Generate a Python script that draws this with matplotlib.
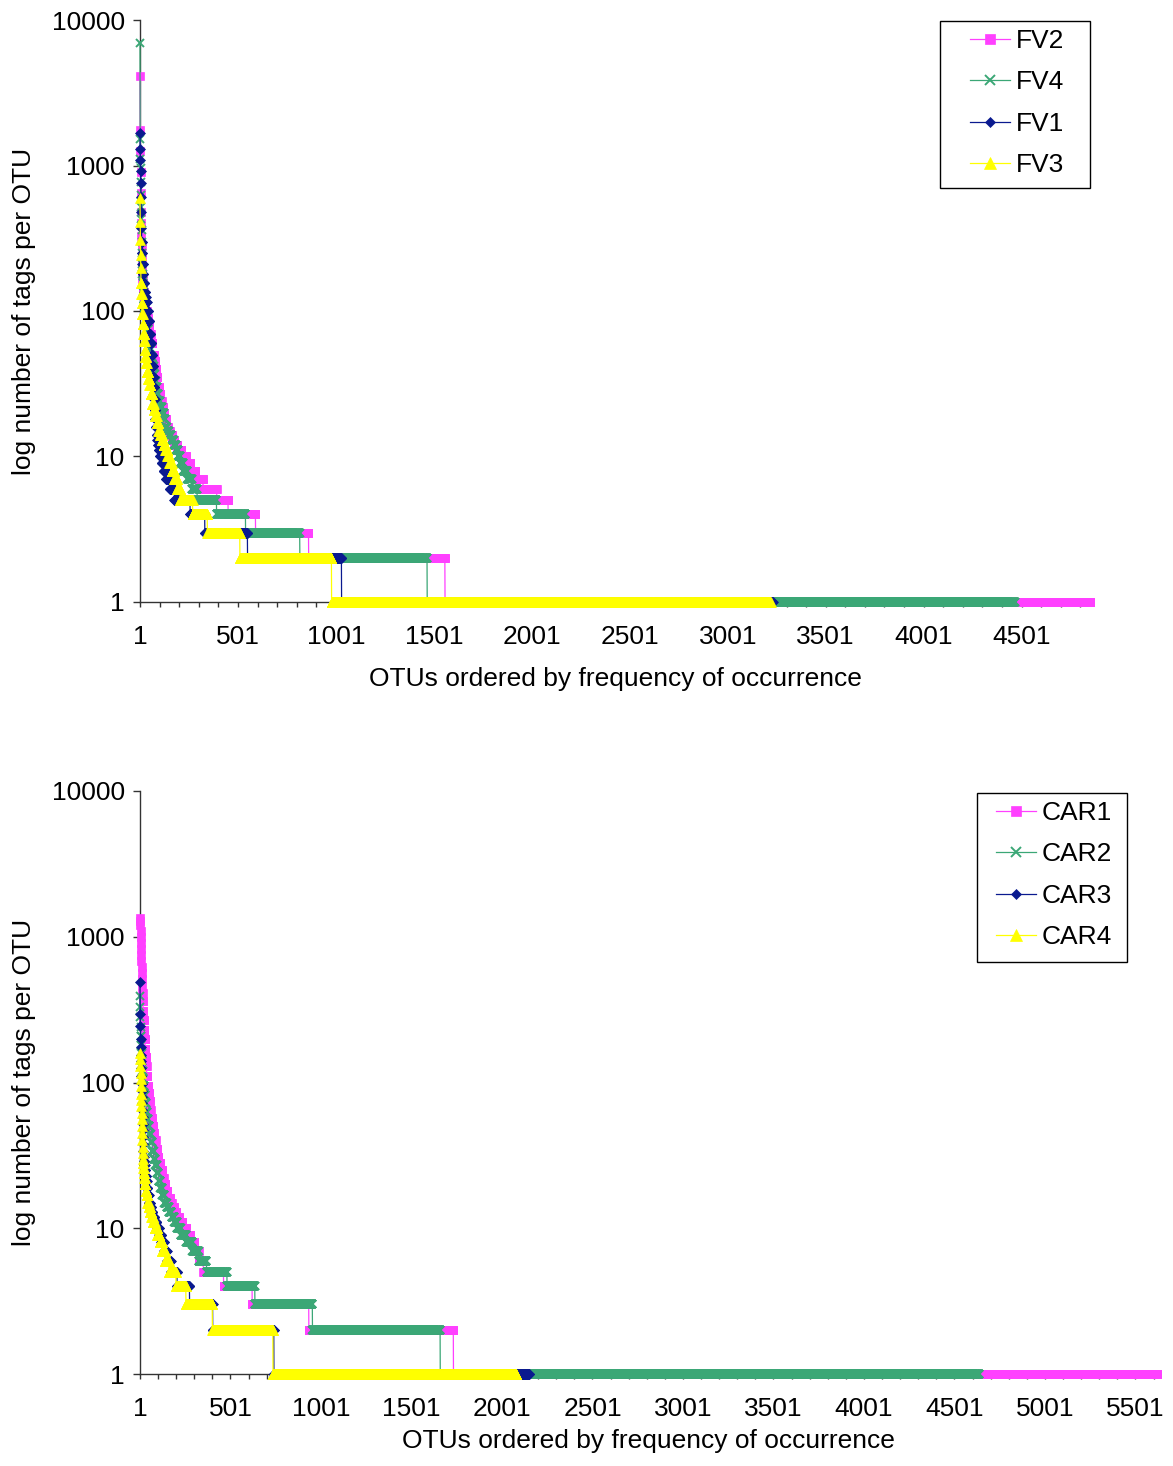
import numpy as np
import matplotlib
matplotlib.use('Agg')
from matplotlib import pyplot as plt
from matplotlib.patches import Rectangle

plt.rcParams['font.family'] = ['Liberation Sans', 'DejaVu Sans']

# rank-abundance data: abundance levels (tags per OTU) and the last OTU rank at each level
fv2_levels = [4150, 1750, 1250, 900, 650, 480, 400, 330, 280, 240, 210, 185, 165, 150, 135, 120, 110, 100, 90, 80,
              70, 60, 50, 45, 40, 35, 30, 27, 24, 22, 20, 18, 16, 15, 14, 13, 12, 11, 10, 9, 8, 7, 6, 5, 4, 3, 2, 1]
fv2_ends = [1, 2, 3, 4, 5, 6, 7, 8, 9, 10, 11, 12, 14, 16, 19, 23, 28, 35, 41, 48,
            55, 63, 72, 78, 84, 90, 97, 104, 111, 117, 124, 133, 143, 152, 163, 176, 190, 210, 235, 258,
            283, 322, 392, 450, 590, 861, 1557, 4850]

fv4_levels = [6950, 1510, 1100, 960, 770, 630, 520, 430, 360, 300, 250, 210, 180, 155, 135, 120, 105, 95, 85, 75,
              65, 55, 48, 42, 37, 33, 30, 27, 24, 22, 20, 18, 16, 15, 14, 13, 12, 11, 10, 9, 8, 7, 6, 5, 4, 3, 2, 1]
fv4_ends = [1, 2, 3, 4, 5, 6, 7, 8, 9, 10, 11, 12, 14, 16, 19, 23, 27, 32, 38, 44,
            51, 58, 64, 70, 76, 82, 88, 95, 102, 112, 122, 129, 137, 147, 160, 172, 185, 195, 205, 220,
            242, 265, 292, 391, 539, 816, 1466, 4466]

fv1_levels = [1670, 1290, 1090, 910, 755, 610, 480, 370, 300, 250, 210, 180, 155, 135, 125, 115, 100, 85, 70, 60,
              50, 42, 35, 30, 25, 21, 18, 16, 14, 13, 12, 11, 10, 9, 8, 7, 6, 5, 4, 3, 2, 1]
fv1_ends = [1, 2, 3, 4, 5, 6, 7, 8, 10, 12, 15, 18, 22, 26, 30, 35, 42, 48, 54, 59,
            63, 67, 70, 73, 76, 79, 82, 85, 89, 93, 97, 102, 110, 120, 133, 152, 176, 256, 331, 549,
            1029, 3230]

fv3_levels = [596, 412, 308, 243, 196, 155, 130, 113, 95, 82, 70, 62, 54, 48, 44, 38, 34, 31, 27, 23,
              21, 19, 17, 15, 14, 13, 12, 11, 10, 9, 8, 7, 6, 5, 4, 3, 2, 1]
fv3_ends = [1, 2, 3, 4, 5, 7, 9, 11, 14, 17, 21, 24, 27, 31, 35, 42, 48, 54, 62, 70,
            78, 86, 94, 103, 112, 120, 130, 140, 150, 162, 175, 190, 205, 269, 344, 510, 978, 3220]

car1_levels = [1350, 1280, 1200, 1100, 1000, 900, 820, 750, 680, 620, 560, 510, 460, 410, 360, 310, 270, 230, 200, 170,
               150, 130, 110, 95, 85, 75, 65, 57, 50, 45, 40, 35, 31, 28, 25, 22, 20, 18, 16, 15,
               14, 13, 12, 11, 10, 9, 8, 7, 6, 5, 4, 3, 2, 1]
car1_ends = [1, 2, 3, 4, 5, 6, 7, 8, 9, 10, 11, 12, 13, 15, 17, 19, 22, 25, 28, 31,
             34, 37, 41, 45, 50, 55, 60, 66, 73, 80, 87, 95, 103, 112, 121, 131, 141, 152, 165, 176,
             188, 200, 215, 235, 255, 278, 300, 325, 350, 462, 620, 933, 1732, 5620]

car2_levels = [390, 330, 280, 240, 210, 180, 160, 140, 120, 105, 94, 82, 72, 63, 56, 50, 44, 39, 34, 30,
               27, 24, 21, 19, 17, 15, 14, 13, 12, 11, 10, 9, 8, 7, 6, 5, 4, 3, 2, 1]
car2_ends = [1, 2, 3, 4, 6, 8, 10, 13, 16, 20, 24, 29, 34, 39, 45, 52, 60, 68, 76, 85,
             94, 103, 113, 123, 135, 148, 160, 175, 190, 205, 225, 255, 290, 325, 368, 481, 635, 953, 1659, 4637]

car3_levels = [490, 295, 245, 200, 175, 155, 140, 125, 110, 98, 88, 80, 72, 65, 58, 52, 47, 42, 38, 34,
               31, 29, 27, 25, 23, 21, 19, 17, 15, 14, 13, 12, 11, 10, 9, 8, 7, 6, 5, 4, 3, 2, 1]
car3_ends = [1, 2, 3, 4, 5, 6, 7, 8, 9, 10, 11, 12, 13, 14, 15, 16, 17, 18, 19, 20,
             21, 23, 26, 29, 33, 37, 42, 48, 55, 62, 70, 80, 92, 105, 118, 132, 148, 170, 205, 274,
             402, 740, 2150]

car4_levels = [160, 145, 130, 116, 105, 94, 84, 76, 69, 62, 56, 50, 45, 40, 36, 33, 30, 28, 26, 24,
               22, 20, 18, 17, 15, 14, 13, 12, 11, 10, 9, 8, 7, 6, 5, 4, 3, 2, 1]
car4_ends = [1, 2, 3, 4, 5, 6, 7, 8, 9, 10, 11, 12, 13, 14, 15, 16, 17, 19, 21, 24,
             27, 31, 36, 41, 48, 55, 63, 72, 82, 95, 108, 122, 138, 160, 199, 254, 400, 735, 2080]

top_names = ['FV2', 'FV4', 'FV1', 'FV3']
bottom_names = ['CAR1', 'CAR2', 'CAR3', 'CAR4']

PINK = '#FF40FF'
GREEN = '#3BA776'
NAVY = '#0A1A8F'
YELLOW = '#FFFF00'
styles = [(PINK, 's', 5.8, 0.5), (GREEN, 'x', 6.2, 1.4), (NAVY, 'D', 4.6, 0.5), (YELLOW, '^', 7.0, 0.5)]
FS = 19
W, H = 1173.0, 1466.0


def expand(levels, ends):
    counts = np.diff([0] + list(ends))
    y = np.repeat(levels, counts)
    x = np.arange(1, len(y) + 1)
    return x, y


def panel(rect, series, names, nmax, leg_xy, box, xpad):
    ax = fig.add_axes(rect)
    for (levels, ends), name, (col, mk, ms, mew) in zip(series, names, styles):
        x, y = expand(levels, ends)
        ax.plot(x, y, color=col, lw=0.9, marker=mk, ms=ms, mew=mew, mec=col, mfc=col,
                label=name, clip_on=False, zorder=3)
    ax.set_yscale('log')
    ax.set_ylim(1, 10000)
    ax.set_yticks([1, 10, 100, 1000, 10000])
    ax.set_yticklabels(['1', '10', '100', '1000', '10000'])
    ax.yaxis.set_minor_locator(matplotlib.ticker.NullLocator())
    ax.set_xlim(1, nmax)
    ticks = np.arange(1, nmax + 1, 100)
    ax.set_xticks(ticks)
    ax.set_xticklabels([str(t) if (t - 1) % 500 == 0 else '' for t in ticks])
    for s in ['top', 'right']:
        ax.spines[s].set_visible(False)
    for s in ['left', 'bottom']:
        ax.spines[s].set_linewidth(1.0)
        ax.spines[s].set_color('#333333')
    ax.tick_params(axis='y', direction='out', length=5, width=1, labelsize=FS, pad=6, color='#333333')
    ax.tick_params(axis='x', direction='out', length=3.5, width=1, labelsize=FS, pad=13, color='#333333')
    ax.set_xlabel('OTUs ordered by frequency of occurrence', fontsize=FS, labelpad=xpad)
    ax.set_ylabel('log number of tags per OTU', fontsize=FS, labelpad=11)

    # legend entries without frame, box drawn separately
    ax.legend(loc='upper left', bbox_to_anchor=(leg_xy[0] / W, 1 - leg_xy[1] / H),
              bbox_transform=fig.transFigure, fontsize=FS, frameon=False, numpoints=1,
              handlelength=1.52, handletextpad=0.22, labelspacing=0.66, borderpad=0,
              borderaxespad=0, markerscale=1.15)
    x0, y0, x1, y1 = box
    fig.patches.append(Rectangle((x0 / W, 1 - y1 / H), (x1 - x0) / W, (y1 - y0) / H,
                                 transform=fig.transFigure, fill=False, edgecolor='black', lw=1.0))
    return ax


fig = plt.figure(figsize=(W / 100, H / 100), dpi=100)
panel([140 / W, 1 - 602 / H, 950 / W, 582 / H],
      [(fv2_levels, fv2_ends), (fv4_levels, fv4_ends), (fv1_levels, fv1_ends), (fv3_levels, fv3_ends)],
      top_names, 4850, (970, 29), (940, 21, 1090, 188), 13)
panel([140 / W, 1 - 1374 / H, 1017 / W, 583 / H],
      [(car1_levels, car1_ends), (car2_levels, car2_ends), (car3_levels, car3_ends), (car4_levels, car4_ends)],
      bottom_names, 5620, (996, 801), (977, 793, 1127, 962), 6)

fig.savefig('out.png', dpi=100)
